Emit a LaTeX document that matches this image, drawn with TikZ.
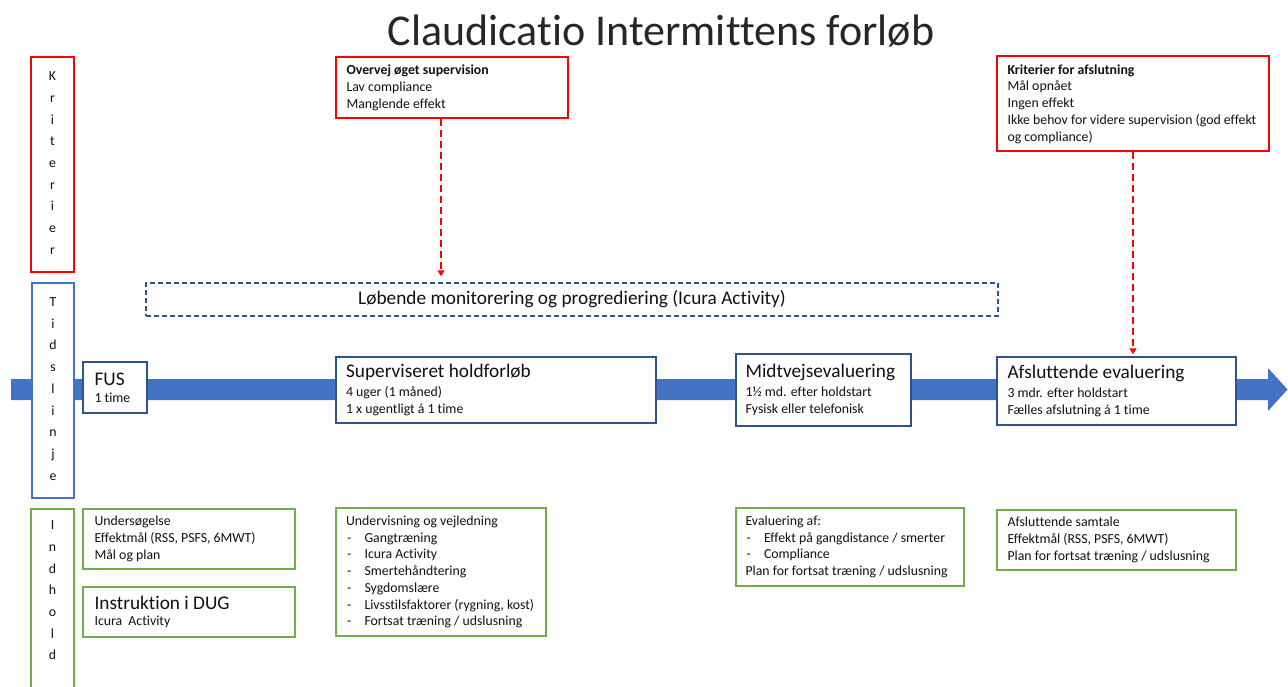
\documentclass[tikz,border=0pt]{standalone}
\usepackage{fontspec}
\setmainfont{Carlito}[Ligatures={NoCommon}]
\usetikzlibrary{arrows.meta,calc}
\definecolor{cred}{HTML}{FF0000}
\definecolor{cblue}{HTML}{4472C4}
\definecolor{cdblue}{HTML}{2F528F}
\definecolor{cgreen}{HTML}{70AD47}
\definecolor{ctext}{HTML}{111111}
\newcommand\smallfs{\fontsize{13.8}{16.7}\selectfont}
\newcommand\bigfs{\fontsize{19.3}{22}\selectfont}
\newcommand\dashitem[1]{\makebox[18.5pt][l]{\hspace{1pt}-}#1}
\tikzset{
  basebox/.style={draw, line width=1.3pt, fill=white, inner sep=0pt, rectangle},
  redbox/.style={basebox, draw=cred},
  bluebox/.style={basebox, draw=cblue},
  dbluebox/.style={basebox, draw=cdblue},
  greenbox/.style={basebox, draw=cgreen},
  txt/.style={inner sep=0pt, anchor=west, align=left, font=\smallfs, text=ctext},
  vletters/.style={inner sep=0pt, anchor=center, align=center, font=\fontsize{13.8}{21.7}\selectfont, text=ctext},
  redarrow/.style={draw=cred, line width=1.5pt, dash pattern=on 7pt off 4pt, -{Triangle[width=7pt,length=6pt]}},
}
\begin{document}
\begin{tikzpicture}[x=1pt,y=-1pt]
\useasboundingbox (0,0) rectangle (1288,687);
% title
\node[anchor=base, inner sep=0pt, font=\fontsize{44}{50}\selectfont, text=black!85] (title) at (661,46) {Claudicatio Intermittens forløb};
% timeline arrow
\fill[cblue] (11,379) -- (1268,379) -- (1268,368) -- (1287.5,389.5) -- (1268,411) -- (1268,400) -- (11,400) -- cycle;
% left column
\node[redbox, minimum width=43pt, minimum height=215pt] (krit) at (52.5,164.5) {};
\node[vletters] (krit-t) at (52.5,163) {K\\r\\i\\t\\e\\r\\i\\e\\r};
\node[bluebox, minimum width=42pt, minimum height=215pt] (tid) at (53,390.5) {};
\node[vletters] (tid-t) at (53,389) {T\\i\\d\\s\\l\\i\\n\\j\\e};
\node[greenbox, minimum width=43pt, minimum height=200pt] (ind) at (52.5,609) {};
\node[vletters] (ind-t) at (52.5,590.5) {I\\n\\d\\h\\o\\l\\d};
% monitoring
\node[basebox, draw=cdblue, line width=1.5pt, dash pattern=on 5pt off 3pt, minimum width=852pt, minimum height=33pt] (mon) at (572,299.5) {};
\node[inner sep=0pt, font=\bigfs, text=ctext] (mon-t) at (572,299.5) {Løbende monitorering og progrediering (Icura Activity)};
% criteria boxes
\node[redbox, minimum width=232pt, minimum height=61pt] (ov) at (452,87.5) {};
\node[txt] (ov-t) at ($(ov.west)+(11,0.5)$) {\textbf{Overvej øget supervision}\\Lav compliance\\Manglende effekt};
\node[redbox, minimum width=272pt, minimum height=95pt] (kaf) at (1133,103.5) {};
\node[txt] (kaf-t) at ($(kaf.west)+(11,0.5)$) {\textbf{Kriterier for afslutning}\\Mål opnået\\Ingen effekt\\Ikke behov for videre supervision (god effekt\\og compliance)};
% timeline boxes
\node[dbluebox, minimum width=64pt, minimum height=51pt] (fus) at (115,387.5) {};
\node[txt] (fus-t) at ($(fus.west)+(12,0)$) {{\bigfs FUS}\\1 time};
\node[dbluebox, minimum width=320pt, minimum height=66pt] (sup) at (496,390) {};
\node[txt] (sup-t) at ($(sup.west)+(10.5,0)$) {{\bigfs Superviseret holdforløb}\\[2pt]4 uger (1 måned)\\1 x ugentligt á 1 time};
\node[dbluebox, minimum width=175pt, minimum height=72pt] (mid) at (823.5,390) {};
\node[txt] (mid-t) at ($(mid.west)+(10,0)$) {{\bigfs Midtvejsevaluering}\\[2pt]1½ md. efter holdstart\\Fysisk eller telefonisk};
\node[dbluebox, minimum width=239pt, minimum height=68pt] (afs) at (1116.5,391) {};
\node[txt] (afs-t) at ($(afs.west)+(11,0)$) {{\bigfs Afsluttende evaluering}\\[2pt]3 mdr. efter holdstart\\Fælles afslutning á 1 time};
% content boxes
\node[greenbox, minimum width=212pt, minimum height=60pt] (und) at (189,539) {};
\node[txt] (und-t) at ($(und.west)+(12,0)$) {Undersøgelse\\Effektmål (RSS, PSFS, 6MWT)\\Mål og plan};
\node[greenbox, minimum width=212pt, minimum height=50pt] (ins) at (189,612) {};
\node[txt] (ins-t) at ($(ins.west)+(12,0)$) {{\bigfs Instruktion i DUG}\\Icura\ \ Activity};
\node[greenbox, minimum width=210pt, minimum height=128pt] (unv) at (441,572) {};
\node[txt] (unv-t) at ($(unv.west)+(10.5,0)$) {Undervisning og vejledning\\\dashitem{Gangtræning}\\\dashitem{Icura Activity}\\\dashitem{Smertehåndtering}\\\dashitem{Sygdomslære}\\\dashitem{Livsstilsfaktorer (rygning, kost)}\\\dashitem{Fortsat træning / udslusning}};
\node[greenbox, minimum width=228pt, minimum height=78pt] (eva) at (850,547) {};
\node[txt] (eva-t) at ($(eva.west)+(10,0)$) {Evaluering af:\\\dashitem{Effekt på gangdistance / smerter}\\\dashitem{Compliance}\\Plan for fortsat træning / udslusning};
\node[greenbox, minimum width=239pt, minimum height=60pt] (sam) at (1116.5,540) {};
\node[txt] (sam-t) at ($(sam.west)+(11,0)$) {Afsluttende samtale\\Effektmål (RSS, PSFS, 6MWT)\\Plan for fortsat træning / udslusning};
% connectors
\coordinate (ovs) at ($(ov.south)+(-11,0)$);
\draw[redarrow, shorten >=6pt] (ovs) -- (ovs |- mon.north);
\draw[redarrow, shorten >=2pt] (kaf.south) -- (kaf.south |- afs.north);
\end{tikzpicture}
\end{document}
